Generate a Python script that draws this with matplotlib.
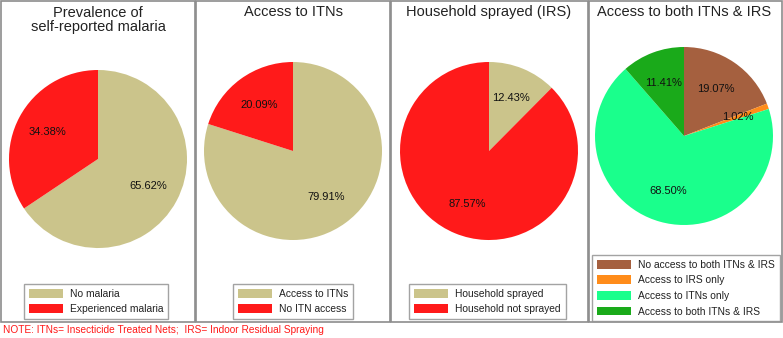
import matplotlib
matplotlib.use("Agg")
import matplotlib.pyplot as plt
from matplotlib.patches import Rectangle

plt.rcParams['font.family'] = ['Liberation Sans', 'DejaVu Sans']

W, H = 783, 338

TAN = '#CBC48B'
RED = '#FF1A1A'

# data
titles = ['Prevalence of\nself-reported malaria', 'Access to ITNs',
          'Household sprayed (IRS)', 'Access to both ITNs & IRS']
malaria_labels = ['No malaria', 'Experienced malaria']
malaria_vals = [65.62, 34.38]
itn_labels = ['Access to ITNs', 'No ITN access']
itn_vals = [79.91, 20.09]
irs_labels = ['Household sprayed', 'Household not sprayed']
irs_vals = [12.43, 87.57]
both_labels = ['No access to both ITNs & IRS', 'Access to IRS only',
               'Access to ITNs only', 'Access to both ITNs & IRS']
both_vals = [19.07, 1.02, 68.50, 11.41]

panels = [
    (malaria_labels, malaria_vals, [TAN, RED]),
    (itn_labels, itn_vals, [TAN, RED]),
    (irs_labels, irs_vals, [TAN, RED]),
    (both_labels, both_vals, ['#A5603F', '#FF8C1A', '#1AFF8C', '#1AAA1A']),
]

# layout in pixels (left, right) of each panel, pie centers, legend boxes
panel_x = [(0, 195), (195, 390), (390, 588), (588, 782)]
pie_c = [(98, 159), (293, 151), (489, 151), (684, 136)]
pie_r = 89
leg_tl = [(24, 284), (233, 284), (409, 284), (592, 255)]
title_y = [20, 12, 12, 12]

fig = plt.figure(figsize=(W / 100, H / 100), dpi=100)

for i, (labels, vals, cols) in enumerate(panels):
    x0, x1 = panel_x[i]
    fig.patches.append(Rectangle((x0 / W + 0.5 / W, 1 - 322 / H), (x1 - x0 - 1) / W, 321 / H,
                                 transform=fig.transFigure, fill=False,
                                 edgecolor='#8C8C8C', linewidth=1.2))
    fig.text(pie_c[i][0] / W, 1 - title_y[i] / H, titles[i], ha='center', va='center',
             fontsize=10.5, color='#222222', linespacing=1.0)

    cx, cy = pie_c[i]
    ax = fig.add_axes([(cx - pie_r) / W, 1 - (cy + pie_r) / H, 2 * pie_r / W, 2 * pie_r / H])
    wedges, _, autotexts = ax.pie(vals, colors=cols, startangle=90, counterclock=False,
                                  autopct='%.2f%%', pctdistance=0.64, radius=1,
                                  wedgeprops=dict(linewidth=0))
    for t in autotexts:
        t.set_fontsize(8)
        t.set_color('#111111')
    ax.set_xlim(-1, 1)
    ax.set_ylim(-1, 1)
    ax.set_aspect('equal')

    lx, ly = leg_tl[i]
    leg = fig.legend(wedges, labels, loc='upper left',
                     bbox_to_anchor=(lx / W, 1 - ly / H), fontsize=7.4,
                     frameon=True, fancybox=False, edgecolor='#8C8C8C',
                     handlelength=3.3, handleheight=0.95, handletextpad=0.75,
                     labelspacing=0.55, borderpad=0.45, borderaxespad=0)
    leg.get_frame().set_linewidth(1.0)
    for t in leg.get_texts():
        t.set_color('#222222')

fig.text(3 / W, 1 - 330 / H, 'NOTE: ITNs= Insecticide Treated Nets;  IRS= Indoor Residual Spraying',
         ha='left', va='center', fontsize=7.3, color='#FF1A1A')

fig.savefig('out.png', dpi=100)
